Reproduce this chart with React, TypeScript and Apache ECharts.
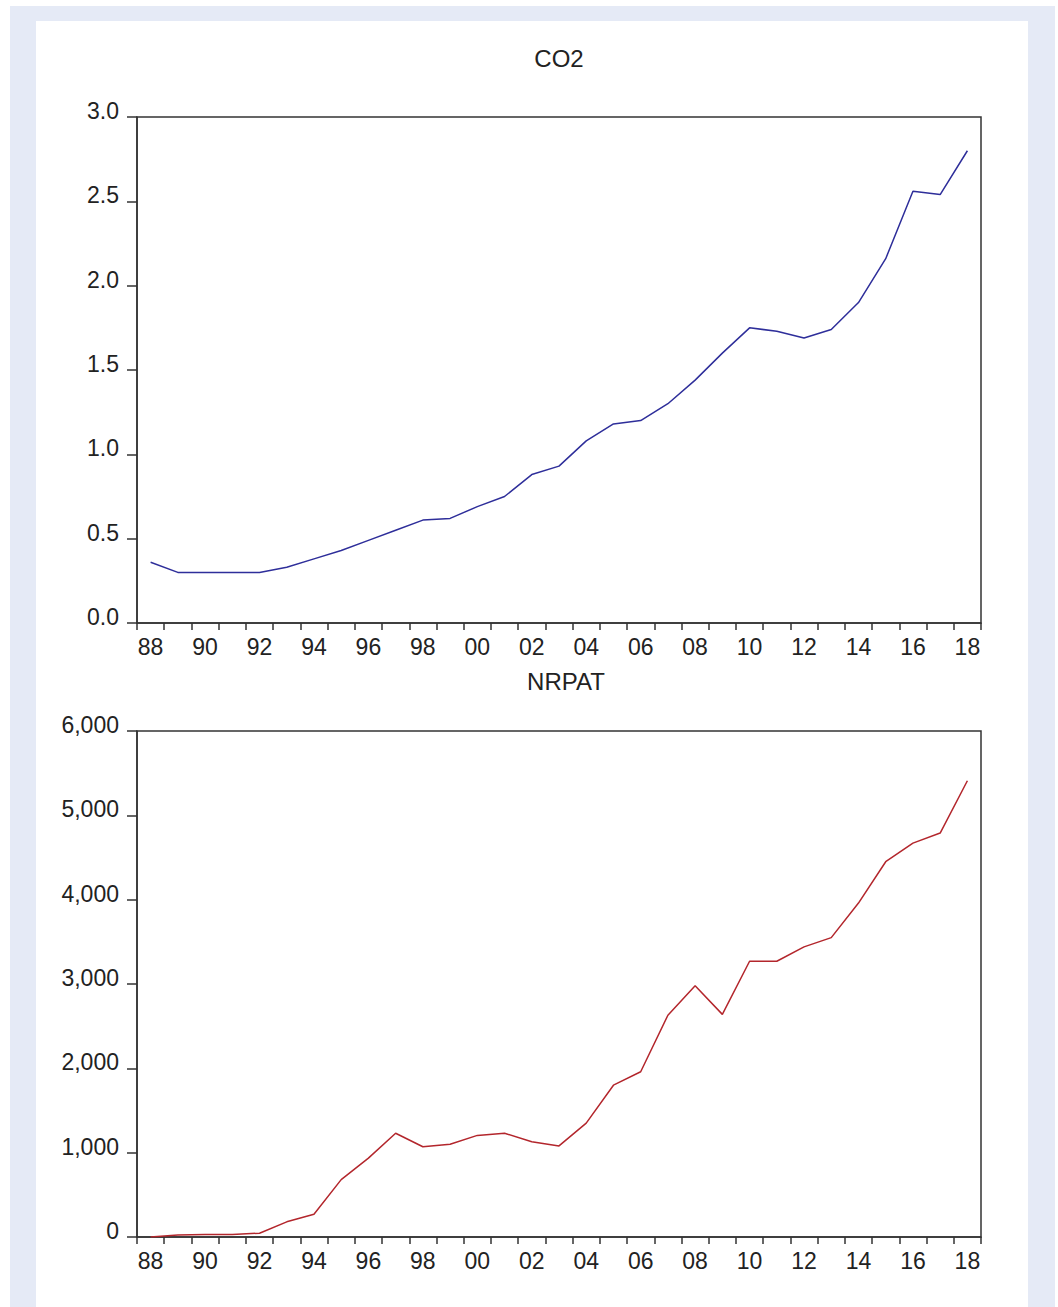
import React, { useEffect, useRef } from "react";
import * as echarts from "echarts";

// Years 1988–2018, labelled with two digits
const years: string[] = [
  "88", "89", "90", "91", "92", "93", "94", "95", "96", "97",
  "98", "99", "00", "01", "02", "03", "04", "05", "06", "07",
  "08", "09", "10", "11", "12", "13", "14", "15", "16", "17", "18",
];

const co2: number[] = [
  0.36, 0.30, 0.30, 0.30, 0.30, 0.33, 0.38, 0.43, 0.49, 0.55,
  0.61, 0.62, 0.69, 0.75, 0.88, 0.93, 1.08, 1.18, 1.20, 1.30,
  1.44, 1.60, 1.75, 1.73, 1.69, 1.74, 1.90, 2.16, 2.56, 2.54, 2.80,
];

const nrpat: number[] = [
  0, 25, 30, 30, 45, 180, 270, 680, 935, 1230,
  1070, 1100, 1205, 1230, 1130, 1080, 1350, 1800, 1960, 2630,
  2980, 2640, 3270, 3270, 3440, 3550, 3960, 4450, 4670, 4790, 5410,
];

const titles: string[] = ["CO2", "NRPAT"];

const FONT = '"Liberation Sans", Arial, sans-serif';
const AXIS = "#333333";
const TEXT = "#222222";

function xAxisFor(gridIndex: number) {
  return {
    type: "category",
    gridIndex,
    data: years,
    boundaryGap: true,
    axisLine: { show: true, lineStyle: { color: AXIS, width: 1.5 } },
    axisTick: {
      show: true,
      interval: 0,
      alignWithLabel: false,
      length: 7,
      lineStyle: { color: AXIS, width: 1.5 },
    },
    axisLabel: {
      interval: 1,
      margin: 12,
      color: TEXT,
      fontSize: 23,
      fontFamily: FONT,
    },
    splitLine: { show: false },
  };
}

function yAxisFor(gridIndex: number, max: number, interval: number, fmt: (v: number) => string) {
  return {
    type: "value",
    gridIndex,
    min: 0,
    max,
    interval,
    axisLine: { show: true, lineStyle: { color: AXIS, width: 1.5 } },
    axisTick: { show: true, length: 10, lineStyle: { color: AXIS, width: 1.5 } },
    axisLabel: {
      margin: 18,
      color: TEXT,
      fontSize: 23,
      fontFamily: FONT,
      formatter: fmt,
      // labels sit just above their tick
      verticalAlign: "bottom",
      lineHeight: 12,
    },
    splitLine: { show: false },
  };
}

export default function App() {
  const ref = useRef<HTMLDivElement>(null);

  useEffect(() => {
    if (!ref.current) return;
    const chart = echarts.init(ref.current, null, { renderer: "svg" });
    chart.setOption({
      animation: false,
      backgroundColor: "transparent",
      title: [
        {
          text: titles[0],
          left: 559,
          top: 46,
          textAlign: "center",
          padding: 0,
          textStyle: { fontSize: 24, fontWeight: "normal", color: TEXT, fontFamily: FONT },
        },
        {
          text: titles[1],
          left: 566,
          top: 669,
          textAlign: "center",
          padding: 0,
          textStyle: { fontSize: 24, fontWeight: "normal", color: TEXT, fontFamily: FONT },
        },
      ],
      grid: [
        { left: 137, top: 117, width: 844, height: 506, show: true, borderColor: AXIS, borderWidth: 1.5, backgroundColor: "#ffffff" },
        { left: 137, top: 731, width: 844, height: 506, show: true, borderColor: AXIS, borderWidth: 1.5, backgroundColor: "#ffffff" },
      ],
      xAxis: [xAxisFor(0), xAxisFor(1)],
      yAxis: [
        yAxisFor(0, 3, 0.5, (v: number) => v.toFixed(1)),
        yAxisFor(1, 6000, 1000, (v: number) => v.toLocaleString("en-US")),
      ],
      series: [
        {
          name: titles[0],
          type: "line",
          xAxisIndex: 0,
          yAxisIndex: 0,
          data: co2,
          showSymbol: false,
          symbol: "none",
          lineStyle: { color: "#2e2e9a", width: 1.5 },
        },
        {
          name: titles[1],
          type: "line",
          xAxisIndex: 1,
          yAxisIndex: 1,
          data: nrpat,
          showSymbol: false,
          symbol: "none",
          lineStyle: { color: "#b3262c", width: 1.5 },
        },
      ],
    });
    return () => chart.dispose();
  }, []);

  return (
    <div style={{ position: "absolute", left: 0, top: 0, width: 1058, height: 1307, background: "#ffffff", overflow: "hidden" }}>
      <div style={{ position: "absolute", left: 10, top: 6, width: 1045, height: 1301, background: "#e5eaf6" }} />
      <div style={{ position: "absolute", left: 36, top: 21, width: 992, height: 1286, background: "#ffffff" }} />
      <div ref={ref} style={{ position: "absolute", left: 0, top: 0, width: 1058, height: 1307 }} />
    </div>
  );
}
